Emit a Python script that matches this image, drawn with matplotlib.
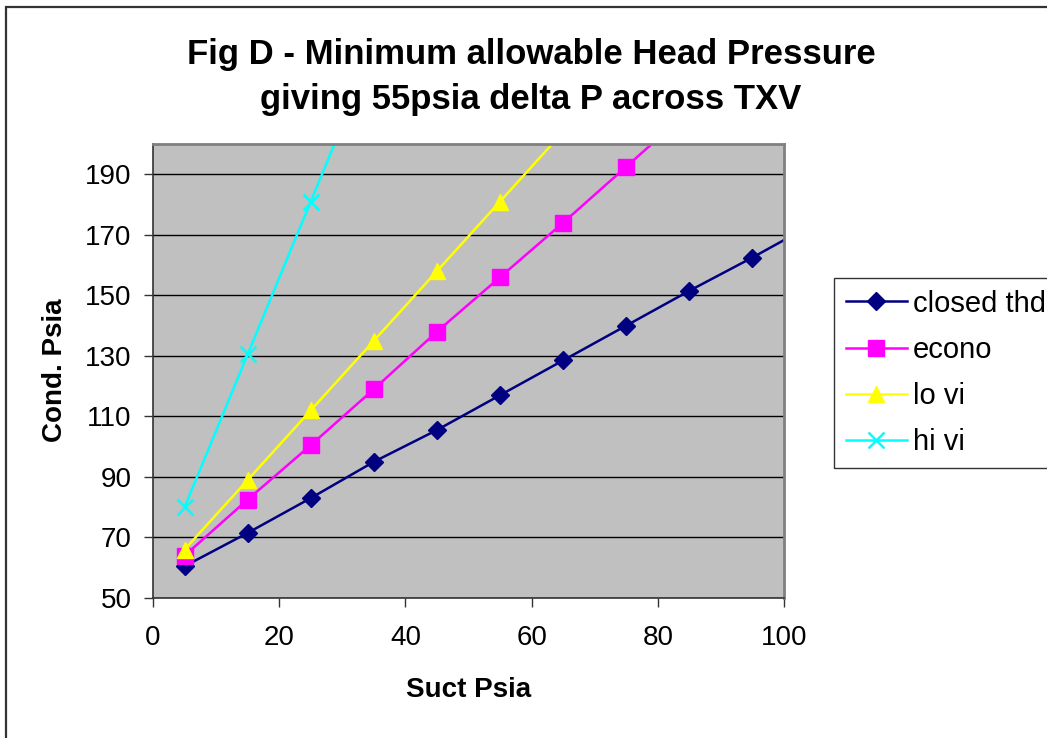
import matplotlib
matplotlib.use('Agg')
import matplotlib.pyplot as plt
import matplotlib.patches as patches

plt.rcParams['font.family'] = ['Liberation Sans', 'DejaVu Sans']

# data (last point of each series runs past the axis limits)
suct_closed = [5, 15, 25, 35, 45, 55, 65, 75, 85, 95, 105]
closed_thd = [60.5, 71.5, 83, 95, 105.5, 117, 128.5, 140, 151.5, 162.5, 174]
suct_econo = [5, 15, 25, 35, 45, 55, 65, 75, 85]
econo = [64, 82.5, 100.5, 119, 138, 156, 174, 192.5, 211]
suct_lovi = [5, 15, 25, 35, 45, 55, 65]
lo_vi = [66, 89, 112, 135, 158, 181, 204]
suct_hivi = [5, 15, 25, 35]
hi_vi = [80, 130.5, 181, 231.5]

x_ticks = [0, 20, 40, 60, 80, 100]
y_ticks = [50, 70, 90, 110, 130, 150, 170, 190]

fig = plt.figure(figsize=(10.47, 7.38), dpi=100)
ax = fig.add_axes([153/1047, 140/738, 631/1047, 454/738])
ax.set_facecolor('#c0c0c0')

ax.plot(suct_closed, closed_thd, color='#000080', lw=1.8, marker='D', ms=9.5, label='closed thd')
ax.plot(suct_econo, econo, color='#ff00ff', lw=1.8, marker='s', ms=11, label='econo')
ax.plot(suct_lovi, lo_vi, color='#ffff00', lw=1.8, marker='^', ms=12, label='lo vi')
ax.plot(suct_hivi, hi_vi, color='#00ffff', lw=1.8, marker='x', ms=11, mew=1.8, label='hi vi')

ax.set_xlim(0, 100)
ax.set_ylim(50, 200)
ax.set_xticks(x_ticks)
ax.set_yticks(y_ticks)
ax.yaxis.grid(True, color='black', lw=1)
ax.set_axisbelow(True)
ax.tick_params(axis='both', direction='out', length=6.5, width=1, labelsize=20, color='#333333')
ax.tick_params(axis='x', pad=13)
ax.tick_params(axis='y', pad=9)

for s in ['top', 'right']:
    ax.spines[s].set_color('#808080')
    ax.spines[s].set_linewidth(2)
for s in ['left', 'bottom']:
    ax.spines[s].set_color('#333333')
    ax.spines[s].set_linewidth(1.2)

fig.text(531/1047, 1 - 77/738, 'Fig D - Minimum allowable Head Pressure\ngiving 55psia delta P across TXV',
         ha='center', va='center', fontsize=25, fontweight='bold', linespacing=1.45)
fig.text(55/1047, 1 - 370/738, 'Cond. Psia', rotation=90, ha='center', va='center',
         fontsize=20, fontweight='bold')
fig.text(469/1047, 1 - 690/738, 'Suct Psia', ha='center', va='center',
         fontsize=20, fontweight='bold')

leg = fig.legend(loc='upper left', bbox_to_anchor=(834/1047, 1 - 278/738), fontsize=21,
                 frameon=True, fancybox=False, handlelength=2.1, handletextpad=0.2,
                 labelspacing=0.62, borderpad=0.4, borderaxespad=0)
leg.get_frame().set_edgecolor('black')
leg.get_frame().set_linewidth(1)

# outer chart border
fig.patches.append(patches.Rectangle((6/1047, -0.05), 1.1, 1 - 7/738 + 0.05,
                                     transform=fig.transFigure, fill=False,
                                     edgecolor='#333333', lw=1.6))

fig.savefig('out.png', dpi=100)
